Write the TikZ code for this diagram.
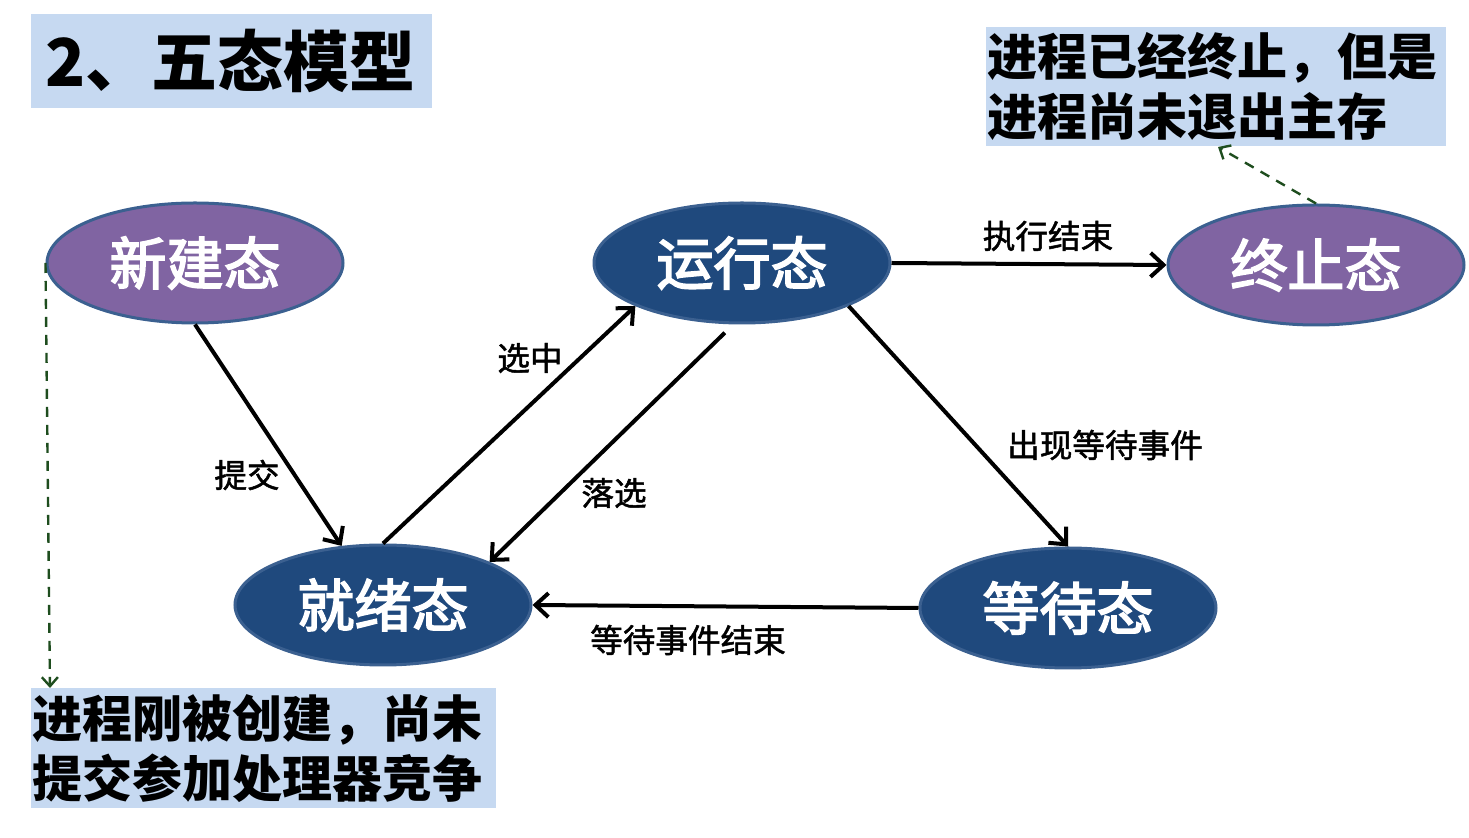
\documentclass[tikz,border=0pt]{standalone}
\usepackage{fontspec}
\setmainfont{Noto Sans CJK SC}
\newfontfamily\semib[FakeBold=3]{Noto Sans CJK SC}
\newfontfamily\lblfont[FakeBold=1.5]{Noto Sans CJK SC}
\usetikzlibrary{shapes.geometric,arrows.meta}
\definecolor{boxblue}{HTML}{C6D9F1}
\definecolor{purp}{HTML}{8064A2}
\definecolor{navy}{HTML}{1F497D}
\definecolor{rim}{HTML}{3B6090}
\definecolor{dgreen}{HTML}{1E4D1E}
\tikzset{
  state/.style={ellipse, minimum width=148pt, minimum height=60pt, inner sep=0pt, line width=1.5pt, draw=rim, text=white, font=\fontsize{28.5}{30}\selectfont\semib},
  newstate/.style={state, fill=purp},
  runstate/.style={state, fill=navy},
  notebox/.style={rectangle, fill=boxblue, inner ysep=0pt, anchor=north west, align=left, font=\fontsize{25}{30}\selectfont\bfseries},
  lbl/.style={font=\fontsize{16.3}{18}\selectfont\lblfont, inner sep=0pt},
  trans/.style={line width=2pt, -{Straight Barb[length=6.5pt,width=12pt]}},
  hint/.style={line width=1.2pt, dgreen, dash pattern=on 5pt off 4pt, -{Straight Barb[length=4.5pt,width=8pt]}}
}
\begin{document}
\begin{tikzpicture}[x=0.5pt,y=-0.5pt]
\useasboundingbox (0,0) rectangle (1469,838);
% title
\node[notebox, minimum width=200.5pt, minimum height=47pt, text width=186.5pt, inner xsep=7pt, font=\fontsize{33}{36}\selectfont\bfseries] (title) at (31,14) {2、五态模型};
% notes
\node[notebox, minimum height=59.5pt, text width=229pt, inner xsep=0.5pt] (note2) at (986,27) {\rule{0pt}{1.5pt}进程已经终止，但是\\进程尚未退出主存};
\node[notebox, minimum height=60pt, text width=231.5pt, inner xsep=0.5pt] (note1) at (31,688) {进程刚被创建，尚未\\提交参加处理器竞争};
% states
\node[newstate] (new) at (195,263) {新建态};
\node[runstate] (run) at (742,263) {运行态};
\node[newstate] (term) at (1316,265) {终止态};
\node[runstate] (ready) at (383,605) {就绪态};
\node[runstate] (wait) at (1068,608) {等待态};
% transitions
\draw[trans] (new.south) -- (ready.125);
\draw[trans] (ready.north) -- (run.202);
\draw[trans, shorten <=6pt] (run.262) -- (ready.22);
\draw[trans] (run.338) -- (wait.north);
\draw[trans] (wait.west) -- (ready.east);
\draw[trans] (run.east) -- (term.west);
% labels
\node[lbl] (l1) at (247,475) {提交};
\node[lbl] (l2) at (530,358) {选中};
\node[lbl] (l3) at (614,493) {落选};
\node[lbl] (l4) at (1105,445) {出现等待事件};
\node[lbl] (l5) at (688,640) {等待事件结束};
\node[lbl] (l6) at (1048,236) {执行结束};
% hints
\coordinate (h1) at (50,688);
\coordinate (h2) at (1218,147);
\draw[hint] (new.west) -- (h1);
\draw[hint] (term.north) -- (h2);
\end{tikzpicture}
\end{document}
